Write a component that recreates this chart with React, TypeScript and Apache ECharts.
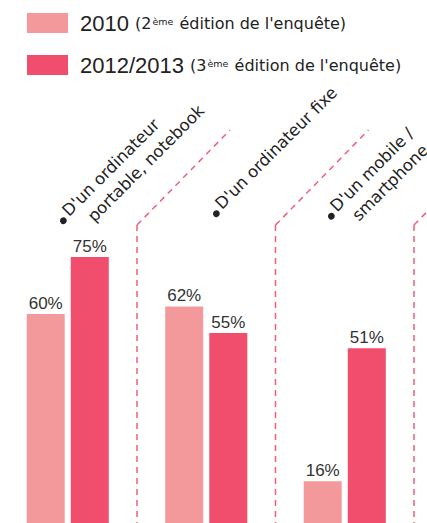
import React, { useEffect, useRef } from "react";
import * as echarts from "echarts";

const categories = [
  "D'un ordinateur portable, notebook",
  "D'un ordinateur fixe",
  "D'un mobile / smartphone",
];
const labelLines = [
  ["D'un ordinateur", "portable, notebook"],
  ["D'un ordinateur fixe"],
  ["D'un mobile /", "smartphone"],
];
const seriesNames = ["2010", "2012/2013"];
const editionNumbers = ["2", "3"];
const values2010 = [60, 62, 16];
const values2013 = [75, 55, 51];
const categoryIndex = [0, 1, 2];

const LIGHT = "#F4999B";
const DARK = "#F04E6C";
const DASH = "#F0607A";
const TEXT = "#222222";

// label placement (x shift from category centre, baseline y, second-line indent)
const labelShiftX = [2, 16.5, -7];
const labelBaseY = [216.5, 209.5, 212];
const secondLineIndent = [14, 9];

export default function App() {
  const ref = useRef<HTMLDivElement>(null);

  useEffect(() => {
    document.body.style.margin = "0";
    if (!ref.current) return;
    const chart = echarts.init(ref.current, undefined, { renderer: "svg" });

    const dashStyle = { stroke: DASH, lineWidth: 1.5, lineDash: [6, 5], fill: "none" };
    const valueLabel = {
      show: true,
      position: "top",
      distance: 2,
      formatter: "{c}%",
      fontFamily: "Liberation Sans",
      fontSize: 17,
      color: "#333333",
    };

    chart.setOption({
      animation: false,
      backgroundColor: "#ffffff",
      legend: {
        orient: "vertical",
        left: 27,
        top: 12,
        padding: 0,
        itemWidth: 41,
        itemHeight: 20,
        itemGap: 20,
        icon: "rect",
        selectedMode: false,
        data: seriesNames,
        formatter: (name: string) => {
          const i = seriesNames.indexOf(name);
          return `{big|${name} }{small|(${editionNumbers[i]}}{sup|ème}{small| édition de l'enquête)}`;
        },
        textStyle: {
          lineHeight: 20,
          rich: {
            big: {
              fontFamily: "Liberation Sans",
              fontSize: 22,
              color: TEXT,
              lineHeight: 20,
              padding: [0, 0, 0, 7],
            },
            small: {
              fontFamily: "DejaVu Sans",
              fontSize: 16,
              color: TEXT,
              lineHeight: 20,
            },
            sup: {
              fontFamily: "DejaVu Sans",
              fontSize: 9.5,
              color: TEXT,
              lineHeight: 20,
              padding: [0, 1, 4, 1],
            },
          },
        },
      },
      grid: {
        left: -1.5,
        right: 13,
        top: 238,
        bottom: -19,
        containLabel: false,
        outerBoundsMode: "none",
      },
      xAxis: {
        type: "category",
        position: "top",
        data: categories,
        axisLine: { show: false },
        axisTick: { show: false },
        splitLine: { show: false },
        axisLabel: { show: false },
      },
      yAxis: {
        type: "value",
        min: 0,
        max: 80,
        show: false,
      },
      series: [
        {
          name: seriesNames[0],
          type: "bar",
          data: values2010,
          barWidth: 38,
          barGap: "16%",
          itemStyle: { color: LIGHT },
          label: valueLabel,
        },
        {
          name: seriesNames[1],
          type: "bar",
          data: values2013,
          barWidth: 38,
          barGap: "16%",
          itemStyle: { color: DARK },
          label: valueLabel,
        },
        {
          // dashed separators between categories
          type: "custom",
          silent: true,
          clip: false,
          data: categoryIndex.map((i) => [i, 0]),
          renderItem: (params: any, api: any) => {
            const c = api.coord([api.value(0), 0]);
            const w = api.size([1, 0])[0];
            const x = c[0] + w / 2;
            const topY = 225;
            return {
              type: "group",
              children: [
                {
                  type: "line",
                  shape: { x1: x, y1: topY, x2: x, y2: c[1] },
                  style: dashStyle,
                },
                {
                  type: "line",
                  shape: { x1: x, y1: topY, x2: x + 93, y2: topY - 95 },
                  style: dashStyle,
                },
              ],
            };
          },
        },
        {
          // rotated category labels with bullets
          type: "custom",
          silent: true,
          clip: false,
          data: categoryIndex.map((i) => [i, 0]),
          renderItem: (params: any, api: any) => {
            const i = api.value(0);
            const c = api.coord([i, 0]);
            const lines = labelLines[i];
            const fontSize = 16.5;
            const children: any[] = [
              {
                type: "circle",
                shape: { cx: -7.5, cy: -1.5, r: 3.4 },
                style: { fill: TEXT },
              },
            ];
            lines.forEach((line: string, j: number) => {
              children.push({
                type: "text",
                x: j === 0 ? -1 : secondLineIndent[i === 0 ? 0 : 1] - 1,
                y: j * 22 - 5.6,
                style: {
                  text: line,
                  fill: TEXT,
                  fontFamily: "DejaVu Sans",
                  fontSize,
                  align: "left",
                  verticalAlign: "middle",
                },
              });
            });
            return {
              type: "group",
              x: c[0] + labelShiftX[i],
              y: labelBaseY[i],
              rotation: Math.PI / 4,
              children,
            };
          },
        },
      ],
    });

    return () => chart.dispose();
  }, []);

  return <div ref={ref} style={{ width: 427, height: 523 }} />;
}
